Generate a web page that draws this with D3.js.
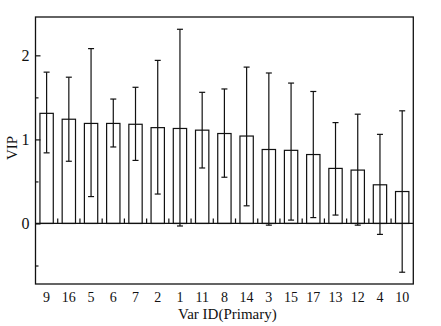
<!DOCTYPE html>
<html>
<head>
<meta charset="utf-8">
<script src="https://cdn.jsdelivr.net/npm/d3@7"></script>
<style>
  body { margin: 0; background: #fff; }
  text { font-family: "Liberation Serif", "Times New Roman", serif; fill: #111; }
</style>
</head>
<body>
<div id="container"></div>
<script>
/* CONSTANTS AND GLOBALS */
const width = 441,
    height = 326,
    plotLeft = 35.5,
    plotRight = 413.3,
    plotTop = 17,
    plotBottom = 284;

// DATA
const varIds = ["9", "16", "5", "6", "7", "2", "1", "11", "8", "14", "3", "15", "17", "13", "12", "4", "10"];
const vip = [1.31, 1.24, 1.19, 1.19, 1.18, 1.14, 1.13, 1.11, 1.07, 1.04, 0.88, 0.87, 0.82, 0.655, 0.635, 0.46, 0.38];
const errUpper = [1.80, 1.74, 2.08, 1.48, 1.62, 1.94, 2.31, 1.56, 1.60, 1.86, 1.79, 1.67, 1.57, 1.20, 1.30, 1.06, 1.34];
const errLower = [0.84, 0.74, 0.32, 0.91, 0.75, 0.35, -0.03, 0.66, 0.55, 0.21, -0.02, 0.04, 0.07, 0.10, -0.02, -0.13, -0.58];
const majorTicks = [0, 1, 2];
const minorTicks = [-0.5, 0.5, 1.5];

const data = varIds.map((id, i) => ({ id: id, v: vip[i], hi: errUpper[i], lo: errLower[i] }));

const svg = d3.select("#container")
    .append("svg")
    .attr("width", width)
    .attr("height", height);

// SCALES
const xScale = d3.scaleBand()
    .domain(varIds)
    .range([plotLeft, plotRight])
    .paddingInner(0.4)
    .paddingOuter(0.2);

const yScale = d3.scaleLinear()
    .domain([-0.72, 2.456])
    .range([plotBottom, plotTop]);

const step = xScale.step();

// BARS
svg.append("g")
    .selectAll("rect")
    .data(data)
    .join("rect")
    .attr("x", d => xScale(d.id))
    .attr("y", d => yScale(d.v))
    .attr("width", xScale.bandwidth())
    .attr("height", d => yScale(0) - yScale(d.v))
    .attr("fill", "white")
    .attr("stroke", "#111")
    .attr("stroke-width", 1.2);

// ERROR BARS
const err = svg.append("g")
    .selectAll("g")
    .data(data)
    .join("g")
    .attr("transform", d => "translate(" + (xScale(d.id) + xScale.bandwidth() / 2) + ",0)")
    .attr("stroke", "#111")
    .attr("stroke-width", 1.2);

err.append("line")
    .attr("y1", d => yScale(d.hi))
    .attr("y2", d => yScale(d.lo));
err.append("line")
    .attr("x1", -3).attr("x2", 3)
    .attr("y1", d => yScale(d.hi)).attr("y2", d => yScale(d.hi));
err.append("line")
    .attr("x1", -3).attr("x2", 3)
    .attr("y1", d => yScale(d.lo)).attr("y2", d => yScale(d.lo));

// ZERO LINE + category ticks
svg.append("line")
    .attr("x1", plotLeft).attr("x2", plotRight)
    .attr("y1", yScale(0)).attr("y2", yScale(0))
    .attr("stroke", "#111")
    .attr("stroke-width", 1.3);

svg.append("g")
    .selectAll("line")
    .data(varIds.slice(1))
    .join("line")
    .attr("x1", d => xScale(d) - step * 0.2)
    .attr("x2", d => xScale(d) - step * 0.2)
    .attr("y1", yScale(0))
    .attr("y2", yScale(0) - 5)
    .attr("stroke", "#111")
    .attr("stroke-width", 1.2);

// AXES
const yAxis = d3.axisLeft(yScale)
    .tickValues(majorTicks)
    .tickFormat(d3.format("d"))
    .tickSizeInner(-5)
    .tickSizeOuter(0)
    .tickPadding(6);

const yg = svg.append("g")
    .attr("transform", "translate(" + plotLeft + ",0)")
    .call(yAxis);
yg.select(".domain").remove();
yg.selectAll("line").attr("stroke", "#111").attr("stroke-width", 1.2);
yg.selectAll("text")
    .style("font-family", "Liberation Serif")
    .style("font-size", "16px")
    .attr("fill", "#222");

const yMinor = svg.append("g")
    .attr("transform", "translate(" + plotLeft + ",0)")
    .call(d3.axisLeft(yScale).tickValues(minorTicks).tickSizeInner(-3).tickSizeOuter(0).tickFormat(""));
yMinor.select(".domain").remove();
yMinor.selectAll("line").attr("stroke", "#111").attr("stroke-width", 1.2);

const xAxis = d3.axisBottom(xScale).tickSize(0).tickPadding(8);
const xg = svg.append("g")
    .attr("transform", "translate(0," + plotBottom + ")")
    .call(xAxis);
xg.select(".domain").remove();
xg.selectAll("text")
    .style("font-family", "Liberation Serif")
    .style("font-size", "14px")
    .attr("fill", "#222");

// FRAME
svg.append("rect")
    .attr("x", plotLeft).attr("y", plotTop)
    .attr("width", plotRight - plotLeft).attr("height", plotBottom - plotTop)
    .attr("fill", "none")
    .attr("stroke", "#111")
    .attr("stroke-width", 1.3);

// LABELS
svg.append("text")
    .attr("x", (plotLeft + plotRight) / 2 + 3)
    .attr("y", 319)
    .attr("text-anchor", "middle")
    .style("font-size", "15px")
    .text("Var ID(Primary)");

svg.append("text")
    .attr("transform", "rotate(-90)")
    .attr("x", -148)
    .attr("y", 17)
    .attr("text-anchor", "middle")
    .style("font-size", "15px")
    .text("VIP");
</script>
</body>
</html>
